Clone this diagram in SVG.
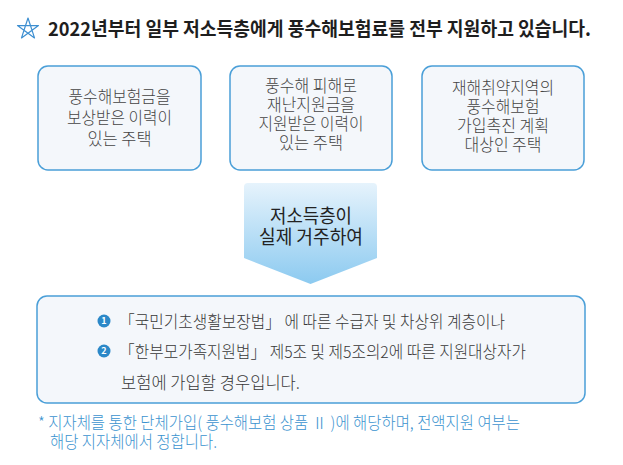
<svg xmlns="http://www.w3.org/2000/svg" width="623" height="465" viewBox="0 0 623 465">
  <defs>
    <linearGradient id="arrowGrad" x1="0" y1="0" x2="0" y2="1">
      <stop offset="0" stop-color="#e6f3fc"/>
      <stop offset="1" stop-color="#8ccaf0"/>
    </linearGradient>
    <style>
      text { font-family: "Noto Sans CJK KR", "Noto Sans", sans-serif; }
      .title { font-size: 19px; font-weight: 700; fill: #1e1e1e; }
      .box { fill: #f4f7fb; stroke: #4a9fd8; stroke-width: 1.5; }
      .btxt { font-size: 16.5px; fill: #444; text-anchor: middle; font-weight: 300; }
      .atxt { font-size: 19px; fill: #222; text-anchor: middle; font-weight: 400; }
      .ltxt { font-size: 16.5px; fill: #383838; font-weight: 300; }
      .bullet { fill: #2b88c8; }
      .bnum { font-size: 9px; fill: #fff; text-anchor: middle; font-weight: 700; }
      .note { font-size: 16.5px; fill: #3b93cf; font-weight: 300; }
    </style>
  </defs>
  <rect width="623" height="465" fill="#ffffff"/>

  <g id="title">
    <path d="M28,18 L34.5,37.9 L17.5,25.6 L38.5,25.6 L21.5,37.9 Z" fill="none" stroke="#3d8fd1" stroke-width="1.2" stroke-linejoin="round"/>
    <text class="title" x="48" y="36" textLength="543" lengthAdjust="spacingAndGlyphs">2022년부터 일부 저소득층에게 풍수해보험료를 전부 지원하고 있습니다.</text>
  </g>

  <g id="box1">
    <rect class="box" x="38" y="66" width="163" height="104" rx="10"/>
    <text class="btxt"><tspan x="119.5" y="103" textLength="102" lengthAdjust="spacingAndGlyphs">풍수해보험금을</tspan><tspan x="119.5" y="124" textLength="105" lengthAdjust="spacingAndGlyphs">보상받은 이력이</tspan><tspan x="119.5" y="145" textLength="64" lengthAdjust="spacingAndGlyphs">있는 주택</tspan></text>
  </g>

  <g id="box2">
    <rect class="box" x="230" y="66" width="162" height="104" rx="10"/>
    <text class="btxt"><tspan x="311" y="91.5" textLength="92" lengthAdjust="spacingAndGlyphs">풍수해 피해로</tspan><tspan x="311" y="111" textLength="88" lengthAdjust="spacingAndGlyphs">재난지원금을</tspan><tspan x="311" y="130" textLength="105" lengthAdjust="spacingAndGlyphs">지원받은 이력이</tspan><tspan x="311" y="149" textLength="64" lengthAdjust="spacingAndGlyphs">있는 주택</tspan></text>
  </g>

  <g id="box3">
    <rect class="box" x="422" y="66" width="162" height="104" rx="10"/>
    <text class="btxt"><tspan x="503" y="93.5" textLength="102" lengthAdjust="spacingAndGlyphs">재해취약지역의</tspan><tspan x="503" y="112.5" textLength="73" lengthAdjust="spacingAndGlyphs">풍수해보험</tspan><tspan x="503" y="131.5" textLength="92" lengthAdjust="spacingAndGlyphs">가입촉진 계획</tspan><tspan x="503" y="150.5" textLength="77" lengthAdjust="spacingAndGlyphs">대상인 주택</tspan></text>
  </g>

  <g id="connectors">
    <path d="M244,187 Q244,183 248,183 L373,183 Q377,183 377,187 L377,258 L310.5,284 L244,258 Z" fill="url(#arrowGrad)"/>
  </g>

  <g id="arrow-label">
    <text class="atxt"><tspan x="311" y="223" textLength="82" lengthAdjust="spacingAndGlyphs">저소득층이</tspan><tspan x="311" y="244" textLength="104" lengthAdjust="spacingAndGlyphs">실제 거주하여</tspan></text>
  </g>

  <g id="conditions">
    <rect class="box" x="37" y="296" width="548" height="107" rx="10"/>
    <circle class="bullet" cx="104" cy="321" r="6.5"/>
    <text class="bnum" x="104" y="324.3">1</text>
    <circle class="bullet" cx="104" cy="351" r="6.5"/>
    <text class="bnum" x="104" y="354.3">2</text>
    <text class="ltxt" x="119" y="327.5" textLength="386" lengthAdjust="spacingAndGlyphs">「국민기초생활보장법」 에 따른 수급자 및 차상위 계층이나</text>
    <text class="ltxt" x="119" y="357.5" textLength="407" lengthAdjust="spacingAndGlyphs">「한부모가족지원법」 제5조 및 제5조의2에 따른 지원대상자가</text>
    <text class="ltxt" x="121" y="388.5" textLength="179" lengthAdjust="spacingAndGlyphs">보험에 가입할 경우입니다.</text>
  </g>

  <g id="footnote">
    <text class="note"><tspan x="38" y="428.5" textLength="482" lengthAdjust="spacingAndGlyphs">* 지자체를 통한 단체가입( 풍수해보험 상품 Ⅱ )에 해당하며, 전액지원 여부는</tspan><tspan x="50" y="447.5" textLength="167" lengthAdjust="spacingAndGlyphs">해당 지자체에서 정합니다.</tspan></text>
  </g>
</svg>
